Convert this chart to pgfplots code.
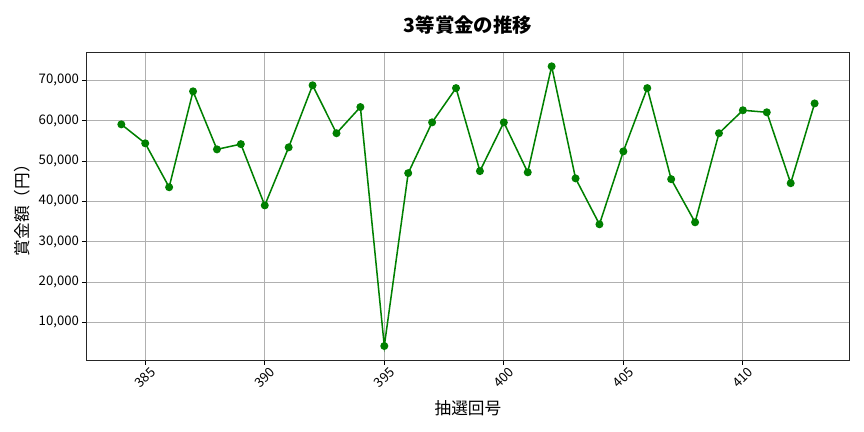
\documentclass[border=0pt]{standalone}
\usepackage{pgfplots}
\pgfplotsset{compat=1.18}
\usepackage{fontspec}
\setmainfont{Noto Sans CJK JP}
\definecolor{mpgreen}{RGB}{0,128,0}
\begin{document}
\begin{tikzpicture}
\path[use as bounding box] (-62.4pt,-51.84pt) rectangle (559.7pt,259.2pt);
\begin{axis}[
  at={(0,0)}, anchor=south west,
  scale only axis, width=549.1pt, height=221.5pt,
  xmin=382.55, xmax=414.45, ymin=630, ymax=76970,
  xtick={385,390,395,400,405,410},
  ytick={10000,20000,30000,40000,50000,60000,70000},
  scaled y ticks=false,
  /pgf/number format/.cd, 1000 sep={,}, assume math mode=true, /pgfplots/.cd,
  grid=major, grid style={color=black!31, line width=0.6pt},
  tick align=outside, major tick length=3.5pt,
  tick style={black, line width=0.6pt},
  xtick pos=bottom, ytick pos=left,
  axis line style={black!85, line width=0.6pt},
  tick label style={font=\fontsize{9.5}{11}\selectfont},
  xticklabel style={rotate=45, anchor=center},
  xticklabel shift=9pt,
  yticklabel style={xshift=1.5pt},
  title={\bfseries 3等賞金の推移},
  title style={font=\fontsize{14}{16}\selectfont, at={(axis description cs:0.5,1.0625)}, anchor=center},
  xlabel={抽選回号}, ylabel={賞金額（円）},
  label style={font=\fontsize{12}{14}\selectfont},
  xlabel style={at={(axis description cs:0.5,-0.156)}, anchor=center},
  ylabel style={at={(axis description cs:-0.0849,0.5)}, anchor=center},
]
\addplot[color=mpgreen, line width=1.1pt, mark=*, mark size=2.3pt, mark options={solid, fill=mpgreen}] coordinates {
(384,59100) (385,54400) (386,43500) (387,67300) (388,52900) (389,54200)
(390,39000) (391,53400) (392,68800) (393,56900) (394,63400) (395,4100)
(396,47000) (397,59600) (398,68100) (399,47500) (400,59600) (401,47200)
(402,73500) (403,45700) (404,34300) (405,52400) (406,68100) (407,45500)
(408,34800) (409,56900) (410,62600) (411,62100) (412,44500) (413,64300)
};
\end{axis}
\end{tikzpicture}
\end{document}
